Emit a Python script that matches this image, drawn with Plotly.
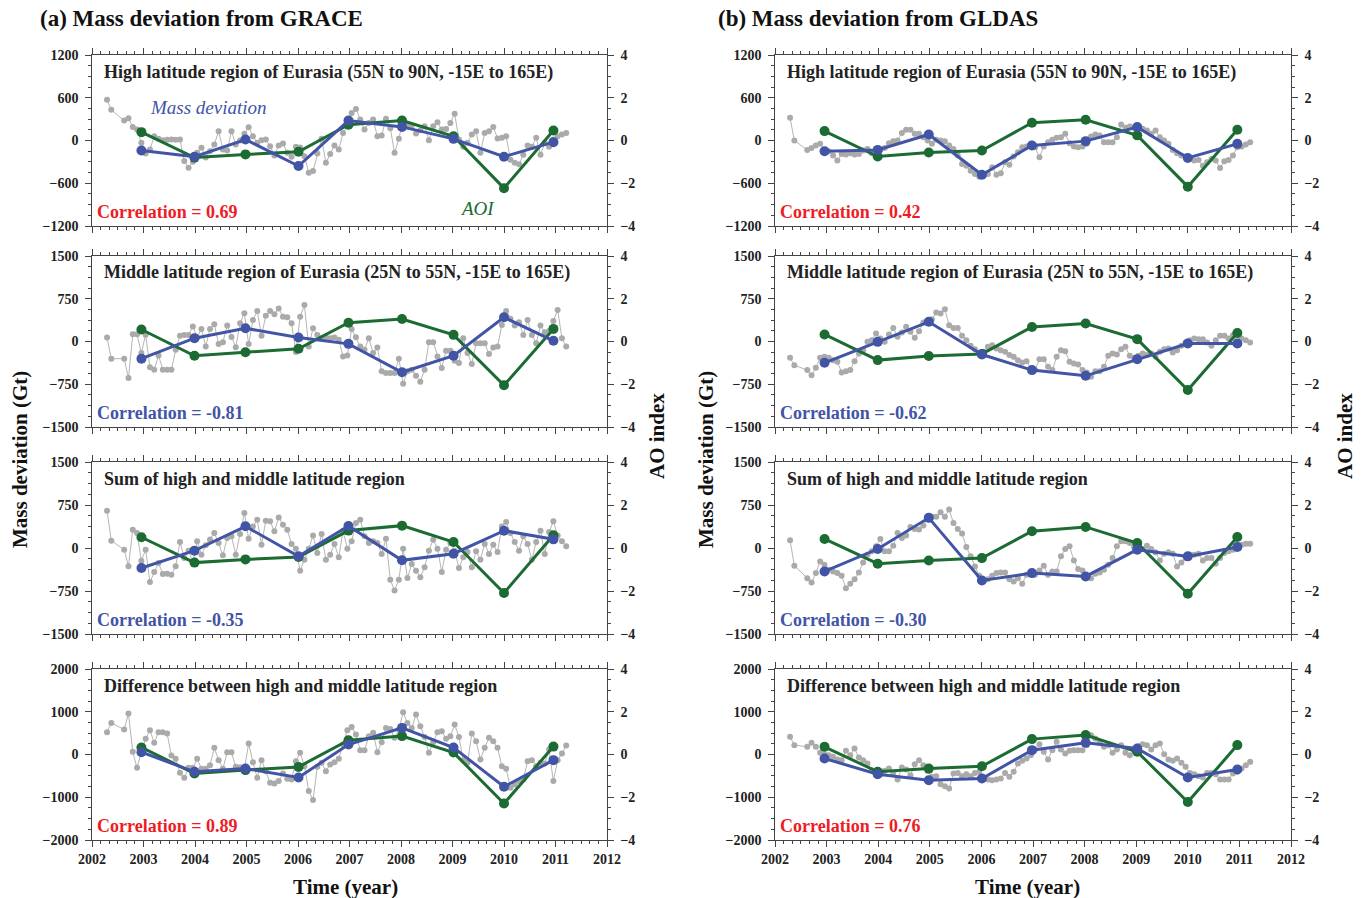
import plotly.graph_objects as go

W, H = 1363, 898

# ---------------- data ----------------
# monthly time axis (Apr 2002 - Mar 2011, Jun/Jul 2002 missing)
gray_time = []
for yr in range(2002, 2012):
    for mo in range(1, 13):
        if (yr == 2002 and mo < 4) or (yr == 2002 and mo in (6, 7)) or (yr == 2011 and mo > 3):
            continue
        gray_time.append(yr + (mo - 0.5) / 12.0)

winter_time = [2002.96, 2003.99, 2004.98, 2006.01, 2006.98, 2008.02, 2009.02, 2010.0, 2010.96]

gray_grace_high = [572, 432, 279, 312, 191, 153, -33, -181, -126, 60, 23, 5, 10, 14, 10, 14, -288, -381, -300, -172,
                   -102, -240, -150, -56, 130, -126, -140, 130, -56, 0, 95, 186, 60, -33, 5, 14, -80, -210, -70, -42,
                   -172, -228, -88, -100, -220, -451, -428, -181, 23, -312, -191, -70, -126, 107, 200, 385, 442, 293, 153, 246,
                   293, 60, 70, 307, 172, -172, 23, 293, 223, 209, 98, 144, 200, 5, 200, 256, 153, 163, 246, 377,
                   14, -88, -33, 84, 130, -172, 107, 130, 191, 28, 37, 60, -270, -312, -335, -200, -70, -88, 37, -200,
                   -33, -88, 14, 60, 84, 107]
gray_grace_mid = [70, -302, -302, -640, 128, 128, -203, 120, -453, -494, -244, -494, -494, -494, -145, 99, 116, 116, 261, 75,
                  220, -87, 220, 302, -46, -12, 279, 81, -99, 320, 494, -46, 377, 534, 99, 453, 534, 476, 581, 436,
                  424, 320, -186, 436, 639, -87, 232, 116, 58, 70, 58, 70, 29, -261, -244, 220, 75, -87, -145, 58,
                  -203, -104, -523, -552, -552, -552, -302, -743, -523, -494, -600, -708, -494, -12, -12, -261, -465, -163, -163, -337,
                  -377, 58, -203, -395, -29, -29, -29, -221, -104, -87, 290, 534, 400, 279, 337, 116, 377, 116, -29, 279,
                  163, 186, 360, 552, 58, -87]
gray_grace_sum = [650, 128, -29, -320, 320, 261, -221, -29, -593, -418, -261, -453, -450, -465, -320, 105, -174, -46, -261, 116,
                  -116, 46, 150, 261, 87, -128, 174, 203, -116, 244, 610, 163, 377, 494, 58, 476, 465, 290, 534, 407,
                  320, 70, -12, -395, -203, -12, 220, -87, 244, -203, -116, 70, -163, 302, -12, 116, 436, 494, 203, 87,
                  116, 87, -104, 163, -552, -743, -552, -12, -523, -279, -395, -511, -337, -46, 145, -12, -418, -29, 87, -46,
                  -349, -163, -70, -337, -58, -203, 70, -104, 58, -70, 377, 453, 261, 105, -46, 203, 70, -203, 105, 302,
                  -104, 279, 465, 220, 116, 29]
gray_grace_diff = [521, 739, 583, 957, 62, -311, 54, 366, 568, 272, 521, 521, 490, -23, -101, -428, -545, -311, -311, -101,
                   -335, -335, -250, 156, -132, -335, 54, 54, -288, -300, -350, 257, -179, -545, -132, -389, -661, -677, -622, -443,
                   -568, -584, -156, 39, -272, -856, -1066, -288, -194, -389, -233, -179, -101, 233, 568, 646, 467, 101, 101, 428,
                   506, 54, 288, 622, 599, 389, 583, 988, 739, 622, 934, 661, 412, 39, 288, 521, 545, 366, 428, 700,
                   412, -132, -194, 490, 311, -117, 156, 389, 311, 156, -272, -335, -778, -700, -622, -584, -156, -132, -272, -194,
                   -210, 117, -622, -132, 23, 210]
gray_gldas_high = [320, 0, -132, -104, -71, -47, -132, -150, -212, -282, -188, -198, -179, -198, -188, -141, -118, -179, -165, -132,
                   -104, -38, -9, 0, 104, 150, 150, 94, 94, 47, 0, -47, 9, 0, -9, -71, -118, -212, -329, -353,
                   -424, -470, -508, -494, -470, -376, -480, -461, -306, -339, -226, -165, -94, -85, -47, -94, -235, -85, -24, 9,
                   38, 47, 94, -38, -85, -94, -85, -47, 56, 85, 71, -24, -24, -24, 47, 226, 179, 198, 179, 179,
                   165, 141, 94, 141, 47, 0, -47, -132, -179, -212, -226, -245, -282, -273, -353, -306, -259, -282, -386, -292,
                   -273, -212, -94, -85, -56, -24]
gray_gldas_mid = [-286, -415, -502, -590, -461, -286, -269, -286, -327, -356, -543, -520, -502, -345, -210, -152, -6, 23, 140, 53,
                  -6, 123, 239, 82, 158, 257, 169, 64, 181, 333, 356, 391, 508, 491, 566, 286, 239, 239, 99, 23,
                  -76, -134, -210, -181, -93, -64, -123, -152, -181, -239, -269, -327, -368, -345, -473, -502, -310, -310, -444, -502,
                  -269, -152, -169, -356, -385, -403, -502, -543, -619, -520, -520, -444, -251, -210, -228, -134, -93, -251, -286, -251,
                  -210, -239, -210, -269, -181, -134, -123, -193, -152, -76, -18, 23, 53, 41, 41, -18, -76, 23, 99, 99,
                  53, 111, -6, 53, 23, -18]
gray_gldas_sum = [134, -310, -526, -602, -438, -234, -292, -380, -409, -438, -485, -701, -625, -543, -426, -251, -117, -58, 29, 158,
                  -58, -58, 41, 263, 175, 216, 368, 333, 321, 391, 543, 543, 543, 625, 543, 672, 438, 333, 251, 18,
                  -146, -321, -485, -566, -543, -485, -438, -426, -426, -543, -584, -526, -625, -467, -426, -467, -391, -310, -467, -409,
                  -409, -146, -18, 29, -216, -368, -391, -508, -526, -450, -426, -380, -292, -175, 29, 117, 117, 88, 18, 76,
                  -18, 41, -18, -76, -216, -99, -76, -99, -321, -251, -175, -117, -117, -99, -216, -175, -175, -275, -175, -88,
                  -58, -29, 18, 58, 76, 76]
gray_gldas_diff = [414, 219, 180, 273, 180, 39, 8, -16, -55, -117, -133, 86, -16, 141, -70, -133, -211, -367, -430, -461,
                   -383, -328, -430, -586, -305, -351, -484, -227, -133, -250, -383, -523, -508, -695, -742, -797, -445, -430, -508, -461,
                   -508, -430, -406, -539, -586, -601, -586, -562, -430, -523, -406, -211, -148, -94, -16, 117, 242, 63, -117, 102,
                   297, 117, 23, 86, 102, 102, 102, 219, 453, 375, 273, 180, 219, 39, 117, 219, 39, -16, 86, 195,
                   242, 219, 117, 219, 258, 8, -117, -148, -94, -195, -289, -430, -461, -508, -539, -430, -430, -461, -586, -586,
                   -586, -445, -406, -328, -250, -172]

blue_grace_high = [-140, -228, 14, -358, 279, 191, 23, -228, -23]
blue_grace_mid = [-302, 58, 232, 70, -41, -540, -250, 424, 12]
blue_grace_sum = [-349, -46, 378, -145, 384, -215, -99, 302, 151]
blue_grace_diff = [54, -405, -327, -537, 233, 622, 163, -755, -132]
blue_gldas_high = [-150, -132, 85, -480, -71, -9, 188, -245, -47]
blue_gldas_mid = [-374, -6, 345, -228, -502, -602, -310, -35, -35]
blue_gldas_sum = [-409, -18, 526, -566, -438, -496, -29, -146, 18]
blue_gldas_diff = [-94, -461, -601, -562, 102, 273, 141, -539, -351]

aoi_grace_high = [0.39, -0.80, -0.65, -0.53, 0.74, 0.93, 0.20, -2.23, 0.47]
aoi_grace_mid = [0.56, -0.67, -0.50, -0.34, 0.88, 1.05, 0.31, -2.05, 0.59]
aoi_grace_sum = [0.50, -0.68, -0.53, -0.42, 0.81, 1.04, 0.28, -2.09, 0.59]
aoi_grace_diff = [0.33, -0.89, -0.73, -0.58, 0.67, 0.86, 0.09, -2.29, 0.37]
aoi_gldas_high = [0.44, -0.75, -0.56, -0.47, 0.83, 0.97, 0.24, -2.16, 0.50]
aoi_gldas_mid = [0.33, -0.87, -0.68, -0.58, 0.68, 0.84, 0.11, -2.27, 0.40]
aoi_gldas_sum = [0.42, -0.73, -0.58, -0.47, 0.78, 0.98, 0.23, -2.13, 0.51]
aoi_gldas_diff = [0.36, -0.81, -0.66, -0.55, 0.72, 0.91, 0.13, -2.22, 0.44]

panel_titles = ["High latitude region of Eurasia (55N to 90N, -15E to 165E)",
                "Middle latitude region of Eurasia (25N to 55N, -15E to 165E)",
                "Sum of high and middle latitude region",
                "Difference between high and middle latitude region"]
corr_grace = ["0.69", "-0.81", "-0.35", "0.89"]
corr_gldas = ["0.42", "-0.62", "-0.30", "0.76"]
mass_ranges = [1200, 1500, 1500, 2000]
mass_dticks = [600, 750, 750, 1000]
x_ticks = list(range(2002, 2013))

# ---------------- styling / layout ----------------
FONT = "Liberation Serif"
GRAY = "#aaaaaa"
BLUE = "#4154a6"
GREEN = "#1b6b32"
RED = "#ee1c25"
AXC = "#444444"
TXT = "#222222"

col_x = [(92, 607), (775, 1291)]
row_y = [(55, 226), (256, 427), (462, 634), (669, 840)]

def px_x(x):
    return x / W

def px_y(y):
    return 1 - y / H

panels = [
    (0, 0, gray_grace_high, blue_grace_high, aoi_grace_high, corr_grace[0]),
    (0, 1, gray_grace_mid, blue_grace_mid, aoi_grace_mid, corr_grace[1]),
    (0, 2, gray_grace_sum, blue_grace_sum, aoi_grace_sum, corr_grace[2]),
    (0, 3, gray_grace_diff, blue_grace_diff, aoi_grace_diff, corr_grace[3]),
    (1, 0, gray_gldas_high, blue_gldas_high, aoi_gldas_high, corr_gldas[0]),
    (1, 1, gray_gldas_mid, blue_gldas_mid, aoi_gldas_mid, corr_gldas[1]),
    (1, 2, gray_gldas_sum, blue_gldas_sum, aoi_gldas_sum, corr_gldas[2]),
    (1, 3, gray_gldas_diff, blue_gldas_diff, aoi_gldas_diff, corr_gldas[3]),
]

fig = go.Figure()
layout = {}
annotations = []

tickfont = dict(family=FONT, size=14, color=TXT, weight="bold")

for i, (col, row, gvals, bvals, avals, corr) in enumerate(panels):
    xid = i + 1
    yb, ya, yh = 3 * i + 1, 3 * i + 2, 3 * i + 3
    xname = "x" if xid == 1 else f"x{xid}"
    ybn = "y" if yb == 1 else f"y{yb}"
    yan = f"y{ya}"
    yhn = f"y{yh}"
    xd = [px_x(col_x[col][0]), px_x(col_x[col][1])]
    yd = [px_y(row_y[row][1]), px_y(row_y[row][0])]
    R = mass_ranges[row]
    dt = mass_dticks[row]

    layout["xaxis" if xid == 1 else f"xaxis{xid}"] = dict(
        domain=xd, anchor=ybn, range=[2002, 2012], tickmode="array", tickvals=x_ticks,
        showticklabels=(row == 3), ticks="outside", ticklen=6, tickwidth=1, tickcolor=AXC,
        minor=dict(dtick=1 / 6, tick0=2002, ticks="outside", ticklen=3, tickcolor=AXC, tickwidth=1),
        showline=True, linecolor=AXC, linewidth=1.2, mirror="ticks", showgrid=False, zeroline=False,
        tickfont=tickfont, fixedrange=True, automargin=False)
    layout["yaxis" if yb == 1 else f"yaxis{yb}"] = dict(
        domain=yd, anchor=xname, range=[-R, R], tickmode="linear", tick0=-R, dtick=dt,
        ticks="outside", ticklen=6, tickwidth=1, tickcolor=AXC,
        minor=dict(dtick=dt / 4, ticks="outside", ticklen=3, tickcolor=AXC, tickwidth=1),
        showline=True, linecolor=AXC, linewidth=1.2, showgrid=False, zeroline=False,
        tickfont=tickfont, ticksuffix=" ", automargin=False)
    layout[f"yaxis{ya}"] = dict(
        domain=yd, anchor=xname, overlaying=ybn, side="right", range=[-4, 4], tickmode="linear",
        tick0=-4, dtick=2, ticks="outside", ticklen=6, tickwidth=1, tickcolor=AXC,
        minor=dict(dtick=0.5, ticks="outside", ticklen=3, tickcolor=AXC, tickwidth=1),
        showline=True, linecolor=AXC, linewidth=1.2, showgrid=False, zeroline=False,
        tickfont=tickfont, tickprefix=" ", automargin=False)
    layout[f"yaxis{yh}"] = dict(
        domain=yd, anchor=xname, overlaying=ybn, range=[-R, R], visible=False, showgrid=False,
        zeroline=False, automargin=False)

    fig.add_trace(go.Scatter(x=gray_time, y=gvals, mode="lines+markers", xaxis=xname, yaxis=ybn,
                             line=dict(color="#b5b5b5", width=1), marker=dict(color=GRAY, size=6),
                             showlegend=False, hoverinfo="skip"))
    fig.add_trace(go.Scatter(x=winter_time, y=avals, mode="lines+markers", xaxis=xname, yaxis=yan,
                             line=dict(color=GREEN, width=3), marker=dict(color=GREEN, size=10),
                             showlegend=False))
    fig.add_trace(go.Scatter(x=winter_time, y=bvals, mode="lines+markers", xaxis=xname, yaxis=yhn,
                             line=dict(color=BLUE, width=3), marker=dict(color=BLUE, size=10),
                             showlegend=False))

    # panel title
    tx = col_x[col][0] + 10
    ty = row_y[row][0] + 17
    annotations.append(dict(x=px_x(tx), y=px_y(ty), xref="paper", yref="paper", xanchor="left", yanchor="middle",
                            text=panel_titles[row], showarrow=False,
                            font=dict(family=FONT, size=18, color=TXT, weight="bold")))
    # correlation
    ccol = BLUE if corr.startswith("-") else RED
    annotations.append(dict(x=px_x(col_x[col][0] + 3), y=px_y(row_y[row][1] - 14), xref="paper", yref="paper",
                            xanchor="left", yanchor="middle", text="Correlation = " + corr, showarrow=False,
                            font=dict(family=FONT, size=18, color=ccol, weight="bold")))

# legend-like labels inside first panel
annotations.append(dict(x=px_x(148), y=px_y(107), xref="paper", yref="paper", xanchor="left", yanchor="middle",
                        text="<i>Mass deviation</i>", showarrow=False, font=dict(family=FONT, size=19, color=BLUE)))
annotations.append(dict(x=px_x(458), y=px_y(208), xref="paper", yref="paper", xanchor="left", yanchor="middle",
                        text="<i>AOI</i>", showarrow=False, font=dict(family=FONT, size=19, color=GREEN)))

# figure headings
annotations.append(dict(x=px_x(38), y=px_y(19), xref="paper", yref="paper", xanchor="left", yanchor="middle",
                        text="(a) Mass deviation from GRACE", showarrow=False,
                        font=dict(family=FONT, size=23, color="#111111", weight="bold")))
annotations.append(dict(x=px_x(716), y=px_y(19), xref="paper", yref="paper", xanchor="left", yanchor="middle",
                        text="(b) Mass deviation from GLDAS", showarrow=False,
                        font=dict(family=FONT, size=23, color="#111111", weight="bold")))

# axis titles
for xl, xr, xt in [(20, 657, 345), (706, 1345, 1027)]:
    annotations.append(dict(x=px_x(xl), y=px_y(460), xref="paper", yref="paper", xanchor="center", yanchor="middle",
                            text="Mass deviation (Gt)", textangle=-90, showarrow=False,
                            font=dict(family=FONT, size=21, color="#111111", weight="bold")))
    annotations.append(dict(x=px_x(xr), y=px_y(436), xref="paper", yref="paper", xanchor="center", yanchor="middle",
                            text="AO index", textangle=-90, showarrow=False,
                            font=dict(family=FONT, size=21, color="#111111", weight="bold")))
    annotations.append(dict(x=px_x(xt), y=px_y(887), xref="paper", yref="paper", xanchor="center", yanchor="middle",
                            text="Time (year)", showarrow=False,
                            font=dict(family=FONT, size=21, color="#111111", weight="bold")))

fig.update_layout(**layout)
fig.update_layout(width=W, height=H, margin=dict(l=0, r=0, t=0, b=0), paper_bgcolor="white",
                  plot_bgcolor="white", showlegend=False, annotations=annotations,
                  font=dict(family=FONT, color=TXT))

fig.write_html("out.html")
